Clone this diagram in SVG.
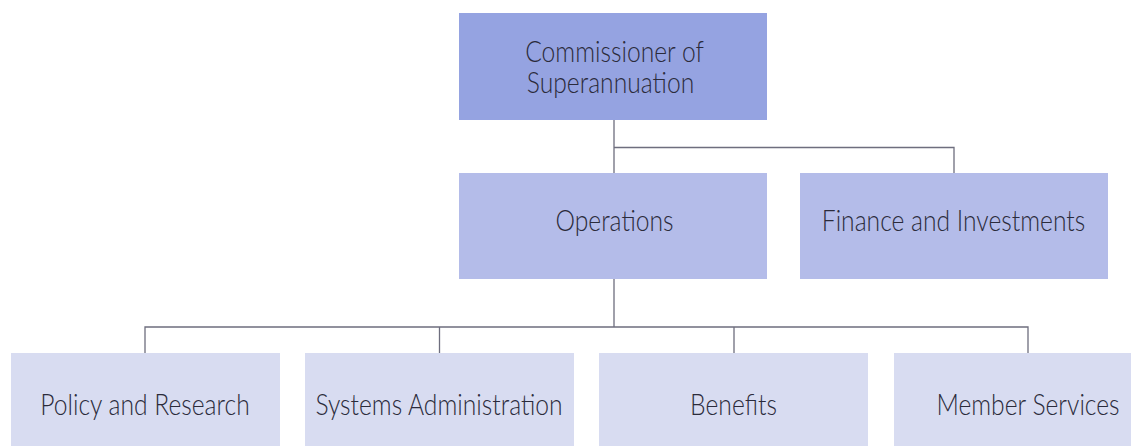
<svg xmlns="http://www.w3.org/2000/svg" width="1131" height="446" viewBox="0 0 1131 446">
<style>
.t{font-family:Lato,"Liberation Sans",sans-serif;font-weight:300;font-size:29px;fill:#2b2b3b;text-anchor:middle}
.l1{fill:#95a3e1}.l2{fill:#b4bce9}.l3{fill:#d8dcf1}
.c{stroke:#6e6e7e;stroke-width:1.3;fill:none}
</style>
<rect width="1131" height="446" fill="#ffffff"/>
<g id="connectors">
<path class="c" d="M614,120V173M614,147.5H954V173"/>
<path class="c" d="M614,279V327M145,353V327H1028V353M439.5,327V353M734,327V353"/>
</g>
<g id="commissioner"><rect class="l1" x="459" y="13" width="308" height="107"/><text class="t" transform="translate(614.5,62) scale(0.85,1)">Commissioner of</text><text class="t" transform="translate(610.5,93) scale(0.85,1)">Superannuation</text></g>
<g id="operations"><rect class="l2" x="459" y="173" width="308" height="106"/><text class="t" transform="translate(614.5,231) scale(0.85,1)">Operations</text></g>
<g id="finance"><rect class="l2" x="800" y="173" width="308" height="106"/><text class="t" transform="translate(953.5,231) scale(0.85,1)">Finance and Investments</text></g>
<g id="policy"><rect class="l3" x="11" y="353" width="269" height="107"/><text class="t" transform="translate(145,415) scale(0.85,1)">Policy and Research</text></g>
<g id="systems"><rect class="l3" x="305" y="353" width="269" height="107"/><text class="t" transform="translate(439,415) scale(0.85,1)">Systems Administration</text></g>
<g id="benefits"><rect class="l3" x="599" y="353" width="269" height="107"/><text class="t" transform="translate(733.5,415) scale(0.85,1)">Benefits</text></g>
<g id="member"><rect class="l3" x="894" y="353" width="269" height="107"/><text class="t" transform="translate(1028,415) scale(0.85,1)">Member Services</text></g>
</svg>
